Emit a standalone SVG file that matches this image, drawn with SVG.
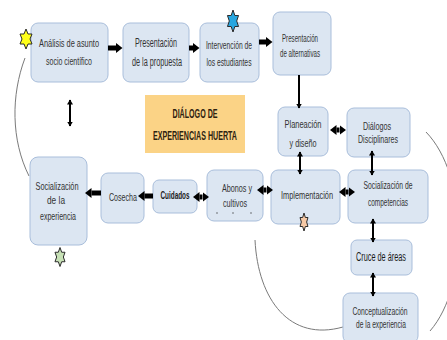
<svg xmlns="http://www.w3.org/2000/svg" width="447" height="340" viewBox="0 0 447 340">
  <style>
    .box { fill: #dce6f2; stroke: #a9bedb; stroke-width: 1; }
    .t { font-family: "Liberation Sans", Arial, sans-serif; fill: #333333; text-anchor: middle; }
    .dk { fill: #1a1a1a; }
    .title { font-family: "Liberation Sans", Arial, sans-serif; font-weight: bold; fill: #2e2210; text-anchor: middle; font-size: 12.5px; }
    .thick { stroke: #000; stroke-width: 5; fill: none; }
    .thin { stroke: #000; stroke-width: 2; fill: none; }
    .arc { stroke: #7a7a7a; stroke-width: 1; fill: none; }
    .star { stroke: #2b2b2b; stroke-width: 1; stroke-linejoin: miter; }
  </style>
  <defs>
    <marker id="hT" markerUnits="userSpaceOnUse" markerWidth="7" markerHeight="10" refX="0" refY="5" orient="auto-start-reverse">
      <path d="M0,0 L6.5,5 L0,10 z" fill="#000"/>
    </marker>
    <marker id="ht" markerUnits="userSpaceOnUse" markerWidth="6" markerHeight="6" refX="4.5" refY="3" orient="auto-start-reverse">
      <path d="M0,0 L5,3 L0,6 z" fill="#000"/>
    </marker>
  </defs>

  <rect width="447" height="340" fill="#ffffff"/>

  <!-- curved guide lines -->
  <g id="arcs">
    <path class="arc" d="M25,58 C11,95 11,140 29,176"/>
    <path class="arc" d="M255,240 C258,300 290,342 343,327"/>
    <path class="arc" d="M426,132 C468,175 470,285 430,331"/>
  </g>

  <g id="titulo">
    <rect x="145" y="95" width="100" height="58" fill="#fbd386"/>
    <text class="title" x="195" y="117.5" textLength="45" lengthAdjust="spacingAndGlyphs">DIÁLOGO DE</text>
    <text class="title" x="195" y="139.5" textLength="84" lengthAdjust="spacingAndGlyphs">EXPERIENCIAS HUERTA</text>
  </g>

  <g id="analisis">
    <rect class="box" x="31" y="23" width="77" height="59" rx="7"/>
    <text class="t" x="69" y="47" font-size="11.5" textLength="60" lengthAdjust="spacingAndGlyphs">Análisis de asunto</text>
    <text class="t" x="69" y="65" font-size="11.5" textLength="46" lengthAdjust="spacingAndGlyphs">socio científico</text>
  </g>

  <g id="presentacion-propuesta">
    <rect class="box" x="123" y="23" width="66" height="59" rx="7"/>
    <text class="t" x="156" y="47" font-size="12" textLength="42" lengthAdjust="spacingAndGlyphs">Presentación</text>
    <text class="t" x="157" y="66" font-size="12" textLength="50" lengthAdjust="spacingAndGlyphs">de la propuesta</text>
  </g>

  <g id="intervencion">
    <rect class="box" x="200" y="23" width="59" height="59" rx="7"/>
    <text class="t" x="229" y="49" font-size="10.5" textLength="46" lengthAdjust="spacingAndGlyphs">Intervención de</text>
    <text class="t" x="229" y="66" font-size="10.5" textLength="45" lengthAdjust="spacingAndGlyphs">los estudiantes</text>
  </g>

  <g id="presentacion-alternativas">
    <rect class="box" x="273" y="12" width="58" height="63" rx="7"/>
    <text class="t" x="300" y="41.5" font-size="10.5" textLength="36" lengthAdjust="spacingAndGlyphs">Presentación</text>
    <text class="t" x="300" y="56.5" font-size="10.5" textLength="40" lengthAdjust="spacingAndGlyphs">de alternativas</text>
  </g>

  <g id="planeacion">
    <rect class="box" x="278" y="107" width="50" height="49" rx="7"/>
    <text class="t" x="303" y="127.5" font-size="11.5" textLength="37" lengthAdjust="spacingAndGlyphs">Planeación</text>
    <text class="t" x="303" y="146.5" font-size="11.5" textLength="27" lengthAdjust="spacingAndGlyphs">y diseño</text>
  </g>

  <g id="dialogos">
    <rect class="box" x="347" y="108" width="63" height="49" rx="7"/>
    <text class="t" x="377" y="129.5" font-size="10.5" textLength="28" lengthAdjust="spacingAndGlyphs">Diálogos</text>
    <text class="t" x="378" y="143" font-size="10.5" textLength="40" lengthAdjust="spacingAndGlyphs">Disciplinares</text>
  </g>

  <g id="implementacion">
    <rect class="box" x="271" y="170" width="69" height="54" rx="7"/>
    <text class="t" x="307" y="199" font-size="11.5" textLength="52" lengthAdjust="spacingAndGlyphs">Implementación</text>
  </g>

  <g id="socializacion-competencias">
    <rect class="box" x="348" y="170" width="80" height="53" rx="7"/>
    <text class="t" x="388" y="189" font-size="11" textLength="49" lengthAdjust="spacingAndGlyphs">Socialización de</text>
    <text class="t" x="388" y="206" font-size="11" textLength="40" lengthAdjust="spacingAndGlyphs">competencias</text>
  </g>

  <g id="abonos">
    <rect class="box" x="207" y="170" width="56" height="51" rx="7"/>
    <text class="t" x="237" y="191.5" font-size="11" textLength="30" lengthAdjust="spacingAndGlyphs">Abonos y</text>
    <text class="t" x="235" y="206.5" font-size="11" textLength="24" lengthAdjust="spacingAndGlyphs">cultivos</text>
    <circle cx="217" cy="213" r="0.7" fill="#444"/>
    <circle cx="233" cy="213" r="0.7" fill="#444"/>
    <circle cx="251" cy="213" r="0.7" fill="#444"/>
  </g>

  <g id="cuidados">
    <rect class="box" x="153" y="180" width="44" height="33" rx="6"/>
    <text class="t dk" x="175" y="199" font-size="11.5" font-weight="bold" textLength="29" lengthAdjust="spacingAndGlyphs">Cuidados</text>
  </g>

  <g id="cosecha">
    <rect class="box" x="101" y="173" width="43" height="50" rx="7"/>
    <text class="t" x="123" y="201" font-size="11.5" textLength="28" lengthAdjust="spacingAndGlyphs">Cosecha</text>
  </g>

  <g id="socializacion-experiencia">
    <rect class="box" x="30" y="157" width="57" height="88" rx="8"/>
    <text class="t" x="57" y="190" font-size="11.5" textLength="43" lengthAdjust="spacingAndGlyphs">Socialización</text>
    <text class="t" x="56" y="204" font-size="11.5" textLength="18" lengthAdjust="spacingAndGlyphs">de la</text>
    <text class="t" x="58" y="220" font-size="11.5" textLength="36" lengthAdjust="spacingAndGlyphs">experiencia</text>
  </g>

  <g id="cruce">
    <rect class="box" x="351" y="240" width="61" height="35" rx="6"/>
    <text class="t dk" x="381" y="261" font-size="12" textLength="50" lengthAdjust="spacingAndGlyphs">Cruce de áreas</text>
  </g>

  <g id="conceptualizacion">
    <rect class="box" x="343" y="293" width="75" height="50" rx="7"/>
    <text class="t" x="380" y="315" font-size="11" textLength="55" lengthAdjust="spacingAndGlyphs">Conceptualización</text>
    <text class="t" x="381" y="328" font-size="11" textLength="50" lengthAdjust="spacingAndGlyphs">de la experiencia</text>
  </g>

  <g id="connectors">
    <!-- block arrows, top row -->
    <line class="thick" x1="108" y1="48" x2="116" y2="48" marker-end="url(#hT)"/>
    <line class="thick" x1="189" y1="48" x2="193" y2="48" marker-end="url(#hT)"/>
    <line class="thick" x1="259" y1="42" x2="266" y2="42" marker-end="url(#hT)"/>
    <!-- block arrows, middle row -->
    <line class="thick" x1="153" y1="196" x2="144.5" y2="196" marker-end="url(#hT)"/>
    <line class="thick" x1="101" y1="193" x2="91.5" y2="193" marker-end="url(#hT)"/>
    <line class="thick" x1="199.5" y1="197" x2="202.5" y2="197" marker-start="url(#hT)" marker-end="url(#hT)"/>
    <line class="thick" x1="263.5" y1="190" x2="266.5" y2="190" marker-start="url(#hT)" marker-end="url(#hT)"/>
    <line class="thick" x1="345.5" y1="192" x2="348.5" y2="192" marker-start="url(#hT)" marker-end="url(#hT)"/>
    <line class="thick" x1="336.5" y1="130" x2="339.5" y2="130" marker-start="url(#hT)" marker-end="url(#hT)"/>
    <!-- thin vertical links -->
    <line class="thin" x1="299" y1="75" x2="299" y2="108" stroke-width="2.5" marker-end="url(#ht)"/>
    <line class="thin" x1="70" y1="100" x2="70" y2="126" marker-start="url(#ht)" marker-end="url(#ht)"/>
    <line class="thin" x1="300" y1="152" x2="300" y2="174" marker-start="url(#ht)" marker-end="url(#ht)"/>
    <line class="thin" x1="372" y1="151" x2="372" y2="175" marker-start="url(#ht)" marker-end="url(#ht)"/>
    <line class="thin" x1="373" y1="219" x2="373" y2="242" marker-start="url(#ht)" marker-end="url(#ht)"/>
    <line class="thin" x1="373" y1="273" x2="373" y2="296" marker-start="url(#ht)" marker-end="url(#ht)"/>
  </g>

  <!-- six-pointed star markers -->
  <g id="estrellas">
    <polygon class="star" fill="#ffff1a" points="26,29 28,34 32,34 30,39 32,44 28,44 26,49 24,44 20,44 22,39 20,34 24,34"/>
    <polygon class="star" fill="#27a6e0" points="233,10 234.85,15.5 238.54,15.5 236.69,21 238.54,26.5 234.85,26.5 233,32 231.15,26.5 227.46,26.5 229.31,21 227.46,15.5 231.15,15.5"/>
    <polygon class="star" fill="#f6c9a6" points="304,213 305.33,217.5 307.98,217.5 306.65,222 307.98,226.5 305.33,226.5 304,231 302.67,226.5 300.02,226.5 301.35,222 300.02,217.5 302.67,217.5"/>
    <polygon class="star" fill="#c7e1b6" points="60,247.5 61.68,252.25 65.02,252.25 63.35,257 65.02,261.75 61.68,261.75 60,266.5 58.32,261.75 54.98,261.75 56.65,257 54.98,252.25 58.32,252.25"/>
  </g>
</svg>
